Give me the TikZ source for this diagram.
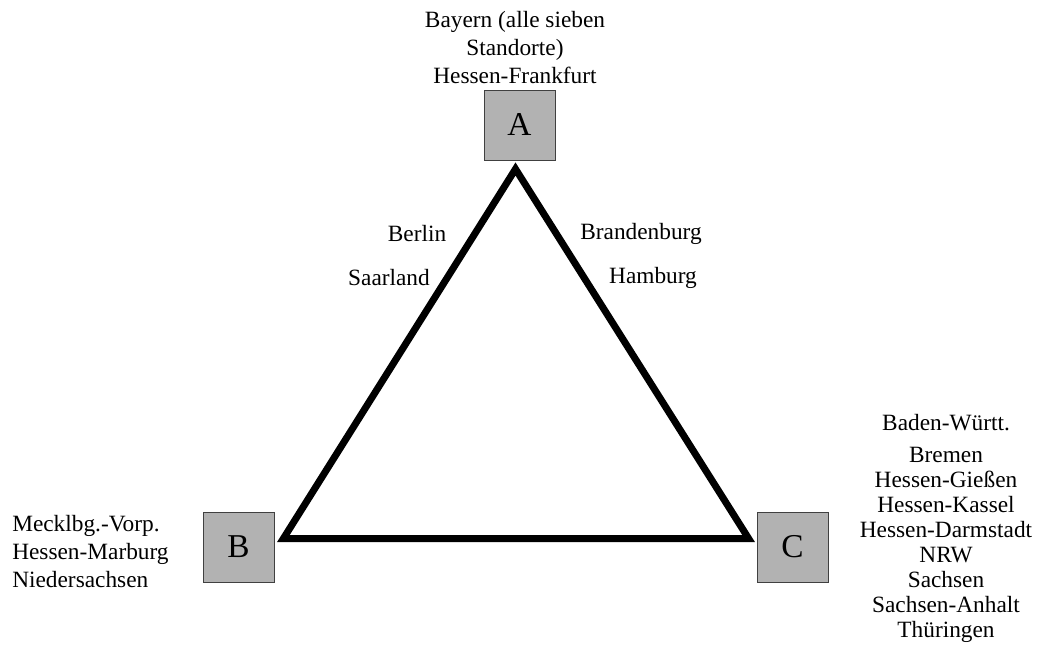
\documentclass[tikz,border=0pt]{standalone}
\usepackage{fontspec}
\setmainfont{Liberation Serif}
\usepackage{tikz}
\usetikzlibrary{shapes}
\usetikzlibrary{arrows}
\tikzset{
	main box/.style={rectangle,draw=black!75,fill=black!30,minimum width=53.25pt,
		minimum height=52.5pt,inner sep=0pt,font=\fontsize{25}{30}\selectfont},
	land/.style={inner sep=0pt,font=\fontsize{17.5}{21}\selectfont},
	side/.style={line width=5.25pt,line join=miter}
}

\begin{document}
\begin{tikzpicture}[x=0.75pt,y=-0.75pt]
	\useasboundingbox (0,0) rectangle (1039,648);
	% the three corners
	\node [main box] (A) at (519.5,125) {A};
	\node [main box] (B) at (238.5,547) {B};
	\node [main box] (C) at (792.5,547) {C};
	\coordinate (a) at (515.5,169);
	\coordinate (b) at (283.4,538.5);
	\coordinate (c) at (748.6,538.5);
	\draw [side] (a) -- (b) -- (c) -- cycle;
	% states at the corners
	\node [land,align=center] (lA) at (515,48) {Bayern (alle sieben\\Standorte)\\Hessen-Frankfurt};
	\node [land,align=left,anchor=west] (lB) at (12,552) {Mecklbg.-Vorp.\\Hessen-Marburg\\Niedersachsen};
	\node [land,align=center,font=\fontsize{17.5}{18.75}\selectfont] (lC) at (946,528)
		{Baden-W\"urtt.\\[5.25pt]Bremen\\Hessen-Gie\ss en\\Hessen-Kassel\\Hessen-Darmstadt\\NRW\\Sachsen\\Sachsen-Anhalt\\Th\"uringen};
	% states on the sides
	\node [land] (ab1) at (417,234) {Berlin};
	\node [land] (ab2) at (389,278) {Saarland};
	\node [land] (ac1) at (641,234) {Brandenburg};
	\node [land] (ac2) at (653,278) {Hamburg};
\end{tikzpicture}
\end{document}
